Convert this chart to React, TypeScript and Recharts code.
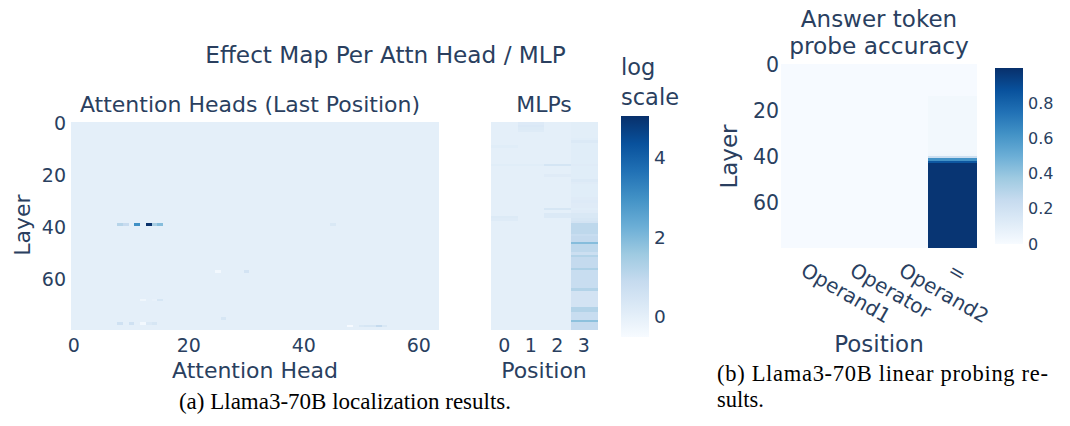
import React from 'react';
import { BarChart, Bar, XAxis, YAxis, Cell } from 'recharts';

const FONT = 'DejaVu Sans, Verdana, sans-serif';
const SERIF = 'Liberation Serif, Times New Roman, serif';
const INK = '#2a3f5f';

// ---------- categories ----------
const N_LAYERS = 80;
const LAYERS = Array.from({ length: N_LAYERS }, (_, i) => i);
const HEADS = Array.from({ length: 64 }, (_, i) => i);
const MLP_POSITIONS = [0, 1, 2, 3];
const PROBE_POSITIONS = ['Operand1', 'Operator', 'Operand2', '='];

// ---------- tick labels ----------
const LAYER_TICKS = [0, 20, 40, 60];
const EFFECT_TICKS = [0, 2, 4];
const PROBE_TICKS = [0, 0.2, 0.4, 0.6, 0.8];

// ---------- colour ranges ----------
const EFFECT_MIN = -0.53;
const EFFECT_MAX = 5.06;
const PROBE_MIN = 0;
const PROBE_MAX = 1;

// ---------- attention heads effect (log scale) ----------
const ATTN_BASE = 0.0;
// [layer, head, value]
const ATTN_CELLS: [number, number, number][] = [
  [39, 8, 1.15], [39, 9, 0.85], [39, 11, 3.0], [39, 13, 5.06], [39, 14, 1.4], [39, 15, 1.9], [39, 45, 0.3],
  [57, 25, -0.4], [57, 30, 0.5],
  [68, 12, -0.3], [68, 14, -0.1], [68, 15, 0.4],
  [75, 26, 0.4],
  [77, 8, 0.6], [77, 10, 0.6], [77, 12, -0.4], [77, 13, 0.25], [77, 14, 0.4],
  [78, 48, -0.5], [78, 50, 0.3], [78, 51, 0.4], [78, 52, 0.4], [78, 53, 0.9], [78, 54, 0.3],
];

// ---------- MLP effect (log scale) ----------
const MLP_BASE = 0.0;
const MLP_COL0: [number, number][] = [[9, 0.1], [16, 0.1], [36, 0.22], [37, 0.18]];
const MLP_COL1: [number, number][] = [[0, 0.2], [1, 0.28], [2, 0.22], [3, 0.18], [16, 0.1]];
const MLP_COL2: [number, number][] = [[16, 0.45], [20, 0.15], [33, 0.4], [35, 0.25], [36, 0.25]];
const MLP_COL3 = [
  0.05, 0.05, 0.05, 0.05, 0.05, 0.05, 0.1, 0.25, 0.1, 0.1,
  0.1, 0.1, 0.1, 0.1, 0.1, 0.1, 0.15, 0.1, 0.1, 0.1,
  0.1, 0.1, 0.25, 0.15, 0.1, 0.1, 0.1, 0.1, 0.1, 0.15,
  0.2, 0.15, 0.15, 0.1, 0.15, 0.3, 0.3, 0.4, 0.5, 1.0,
  1.0, 1.0, 1.0, 0.8, 0.9, 0.9, 1.9, 1.0, 1.0, 1.0,
  0.7, 1.2, 0.9, 0.9, 0.9, 0.9, 1.3, 0.8, 0.8, 0.8,
  0.8, 0.8, 0.8, 0.8, 1.2, 0.5, 0.5, 0.5, 0.5, 0.5,
  0.5, 1.2, 1.2, 0.8, 0.8, 0.8, 1.8, 0.9, 0.9, 0.9,
];

// ---------- probe accuracy ----------
const PROBE_OTHER = 0.005;
const PROBE_EQ = [
  0.005, 0.005, 0.005, 0.005, 0.005, 0.005, 0.005, 0.005, 0.005, 0.005,
  0.005, 0.005, 0.005, 0.005, 0.025, 0.025, 0.025, 0.025, 0.025, 0.025,
  0.025, 0.025, 0.025, 0.025, 0.025, 0.025, 0.025, 0.025, 0.025, 0.025,
  0.025, 0.025, 0.025, 0.025, 0.025, 0.025, 0.025, 0.025, 0.03, 0.04,
  0.22, 0.62, 0.85, 0.98, 0.98, 0.98, 0.98, 0.98, 0.98, 0.98,
  0.98, 0.98, 0.98, 0.98, 0.98, 0.98, 0.98, 0.98, 0.98, 0.98,
  0.98, 0.98, 0.98, 0.98, 0.98, 0.98, 0.98, 0.98, 0.98, 0.98,
  0.98, 0.98, 0.98, 0.98, 0.98, 0.98, 0.98, 0.98, 0.98, 0.98,
];

// ---------- colour scale (Blues) ----------
const BLUES: [number, [number, number, number]][] = [
  [0, [247, 251, 255]], [0.125, [222, 235, 247]], [0.25, [198, 219, 239]],
  [0.375, [158, 202, 225]], [0.5, [107, 174, 214]], [0.625, [66, 146, 198]],
  [0.75, [33, 113, 181]], [0.875, [8, 81, 156]], [1, [8, 48, 107]],
];
function blues(t: number): string {
  const u = Math.max(0, Math.min(1, t));
  for (let i = 1; i < BLUES.length; i++) {
    const [t1, c1] = BLUES[i];
    const [t0, c0] = BLUES[i - 1];
    if (u <= t1) {
      const f = (u - t0) / (t1 - t0);
      const c = c0.map((v, k) => Math.round(v + (c1[k] - v) * f));
      return `rgb(${c[0]},${c[1]},${c[2]})`;
    }
  }
  return 'rgb(8,48,107)';
}
const effectColor = (v: number) => blues((v - EFFECT_MIN) / (EFFECT_MAX - EFFECT_MIN));
const probeColor = (v: number) => blues((v - PROBE_MIN) / (PROBE_MAX - PROBE_MIN));

// ---------- matrices [column][layer] ----------
const attnMatrix = HEADS.map(() => LAYERS.map(() => ATTN_BASE));
ATTN_CELLS.forEach(([l, h, v]) => { attnMatrix[h][l] = v; });

const mlpMatrix = MLP_POSITIONS.map(() => LAYERS.map(() => MLP_BASE));
[MLP_COL0, MLP_COL1, MLP_COL2].forEach((list, c) => list.forEach(([l, v]) => { mlpMatrix[c][l] = v; }));
mlpMatrix[3] = MLP_COL3.slice();

const probeMatrix = PROBE_POSITIONS.map((p) => (p === '=' ? PROBE_EQ.slice() : LAYERS.map(() => PROBE_OTHER)));

const layerTickPos = LAYER_TICKS.map((t) => t + 0.5);

type HeatProps = {
  categories: (string | number)[];
  matrix: number[][];
  colorOf: (v: number) => string;
  width: number;
  height: number;
  margin: { top: number; right: number; bottom: number; left: number };
  yAxisWidth: number;
  showY: boolean;
  xAxisHeight: number;
  xInterval: number;
  xTick: any;
  yFont: number;
  yTickMargin: number;
  xTickMargin: number;
};

function Heatmap(p: HeatProps) {
  const data = p.categories.map((c) => {
    const row: any = { cat: c };
    LAYERS.forEach((l) => { row['L' + l] = 1; });
    return row;
  });
  return (
    <BarChart width={p.width} height={p.height} data={data} margin={p.margin} barCategoryGap={0} barGap={0}>
      <XAxis
        dataKey="cat"
        type="category"
        interval={p.xInterval}
        height={p.xAxisHeight}
        axisLine={false}
        tickLine={false}
        tickSize={0}
        tickMargin={p.xTickMargin}
        tick={p.xTick}
      />
      <YAxis
        type="number"
        domain={[0, N_LAYERS]}
        reversed
        hide={!p.showY}
        width={p.yAxisWidth}
        ticks={layerTickPos}
        tickFormatter={(v: number) => String(Math.round(v - 0.5))}
        axisLine={false}
        tickLine={false}
        tickSize={0}
        tickMargin={p.yTickMargin}
        tick={{ fill: INK, fontSize: p.yFont, fontFamily: FONT }}
      />
      {LAYERS.map((l) => (
        <Bar key={l} dataKey={'L' + l} stackId="s" isAnimationActive={false}>
          {p.categories.map((c, ci) => (
            <Cell key={ci} fill={p.colorOf(p.matrix[ci][l])} shapeRendering="crispEdges" />
          ))}
        </Bar>
      ))}
    </BarChart>
  );
}

type CbProps = {
  id: string;
  min: number;
  max: number;
  ticks: number[];
  width: number;
  height: number;
  margin: { top: number; right: number; bottom: number; left: number };
  axisWidth: number;
  fontSize: number;
  fmt: (v: number) => string;
};

function ColorBar(p: CbProps) {
  const data = [{ name: 'cb', range: [p.min, p.max] }];
  return (
    <BarChart width={p.width} height={p.height} data={data} margin={p.margin} barCategoryGap={0} barGap={0}>
      <defs>
        <linearGradient id={p.id} x1="0" y1="1" x2="0" y2="0">
          {BLUES.map(([t, c]) => (
            <stop key={t} offset={t} stopColor={`rgb(${c[0]},${c[1]},${c[2]})`} />
          ))}
        </linearGradient>
      </defs>
      <XAxis dataKey="name" type="category" hide />
      <YAxis
        orientation="right"
        type="number"
        domain={[p.min, p.max]}
        ticks={p.ticks}
        width={p.axisWidth}
        axisLine={false}
        tickLine={false}
        tickSize={0}
        tickMargin={5}
        tickFormatter={p.fmt}
        tick={{ fill: INK, fontSize: p.fontSize, fontFamily: FONT, textAnchor: 'start' }}
      />
      <Bar dataKey="range" fill={`url(#${p.id})`} isAnimationActive={false} />
    </BarChart>
  );
}

const RotTick = (props: any) => {
  const { x, y, payload } = props;
  return (
    <g transform={`translate(${x + 1},${y + 14})`}>
      <text transform="rotate(30)" textAnchor="start" dy="0.71em" fill={INK} fontSize={20} fontFamily={FONT}>
        {payload.value}
      </text>
    </g>
  );
};

const abs = (left: number, top: number): React.CSSProperties => ({ position: 'absolute', left, top });

export default function App() {
  const tickStyle = { fill: INK, fontSize: 19, fontFamily: FONT };
  return (
    <div style={{ position: 'absolute', left: 0, top: 0, width: 1070, height: 426, background: '#fff', overflow: 'hidden' }}>
      {/* Attention heads */}
      <div style={abs(0, 0)}>
        <Heatmap
          categories={HEADS}
          matrix={attnMatrix}
          colorOf={effectColor}
          width={445}
          height={360}
          margin={{ top: 122, right: 6, bottom: 0, left: 0 }}
          yAxisWidth={71}
          showY
          xAxisHeight={30}
          xInterval={19}
          xTick={tickStyle}
          yFont={19}
          yTickMargin={5}
          xTickMargin={9}
        />
      </div>
      {/* MLPs */}
      <div style={abs(480, 0)}>
        <Heatmap
          categories={MLP_POSITIONS}
          matrix={mlpMatrix}
          colorOf={effectColor}
          width={125}
          height={360}
          margin={{ top: 122, right: 8, bottom: 0, left: 11 }}
          yAxisWidth={0}
          showY={false}
          xAxisHeight={30}
          xInterval={0}
          xTick={tickStyle}
          yFont={19}
          yTickMargin={5}
          xTickMargin={9}
        />
      </div>
      {/* effect colour bar */}
      <div style={abs(600, 0)}>
        <ColorBar
          id="effGrad"
          min={EFFECT_MIN}
          max={EFFECT_MAX}
          ticks={EFFECT_TICKS}
          width={80}
          height={360}
          margin={{ top: 116, right: 0, bottom: 23, left: 21 }}
          axisWidth={31}
          fontSize={18.5}
          fmt={(v) => String(v)}
        />
      </div>
      {/* probe heatmap */}
      <div style={abs(700, 0)}>
        <Heatmap
          categories={PROBE_POSITIONS}
          matrix={probeMatrix}
          colorOf={probeColor}
          width={300}
          height={360}
          margin={{ top: 64, right: 23, bottom: 0, left: 0 }}
          yAxisWidth={81}
          showY
          xAxisHeight={112}
          xInterval={0}
          xTick={<RotTick />}
          yFont={20.5}
          yTickMargin={2}
          xTickMargin={0}
        />
      </div>
      {/* probe colour bar */}
      <div style={abs(990, 0)}>
        <ColorBar
          id="probeGrad"
          min={PROBE_MIN}
          max={PROBE_MAX}
          ticks={PROBE_TICKS}
          width={80}
          height={360}
          margin={{ top: 68, right: 0, bottom: 116, left: 5 }}
          axisWidth={47}
          fontSize={16}
          fmt={(v) => (v === 0 ? '0' : v.toFixed(1))}
        />
      </div>

      {/* text overlay */}
      <svg width={1070} height={426} style={{ position: 'absolute', left: 0, top: 0, pointerEvents: 'none' }}>
        <g fill={INK} fontFamily={FONT}>
          <text x={385.5} y={63} fontSize={23.2} textAnchor="middle">Effect Map Per Attn Head / MLP</text>
          <text x={250} y={111.5} fontSize={22} textAnchor="middle">Attention Heads (Last Position)</text>
          <text x={544} y={111.5} fontSize={22} textAnchor="middle">MLPs</text>
          <text x={621} y={75} fontSize={22.5}>log</text>
          <text x={621} y={105} fontSize={22.5}>scale</text>
          <text transform="translate(30,225) rotate(-90)" fontSize={22} textAnchor="middle">Layer</text>
          <text x={255} y={378} fontSize={22} textAnchor="middle">Attention Head</text>
          <text x={544} y={378} fontSize={22} textAnchor="middle">Position</text>

          <text x={879} y={26.7} fontSize={23} textAnchor="middle">Answer token</text>
          <text x={879} y={53.5} fontSize={23.3} textAnchor="middle">probe accuracy</text>
          <text transform="translate(737,156.5) rotate(-90)" fontSize={23} textAnchor="middle">Layer</text>
          <text x={879} y={352} fontSize={23} textAnchor="middle">Position</text>
        </g>
        <g fill="#000" fontFamily={SERIF}>
          <text x={345} y={409} fontSize={23} textAnchor="middle">(a) Llama3-70B localization results.</text>
          <text x={717} y={381} fontSize={22.5} textLength={331} lengthAdjust="spacing">(b) Llama3-70B linear probing re-</text>
          <text x={717} y={406.5} fontSize={22.5}>sults.</text>
        </g>
      </svg>
    </div>
  );
}
